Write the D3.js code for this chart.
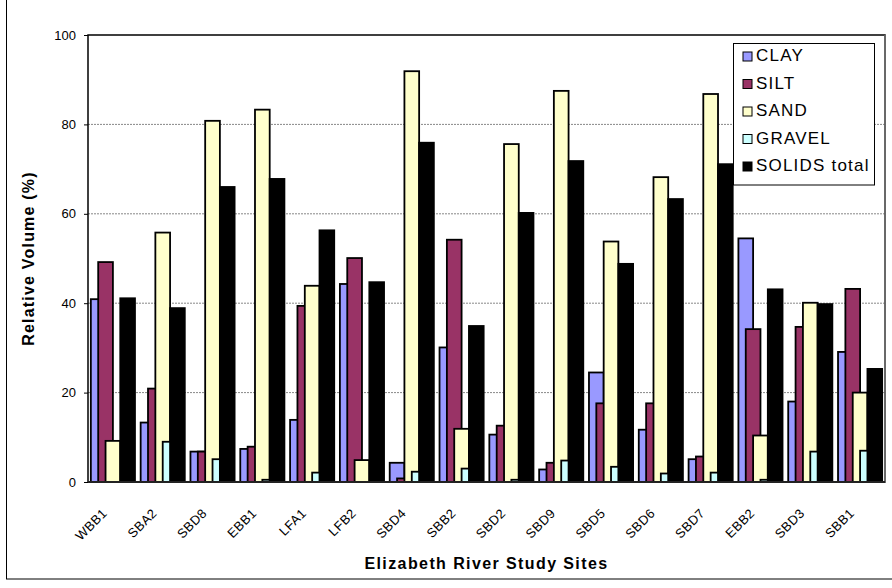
<!DOCTYPE html>
<html><head><meta charset="utf-8">
<script src="https://cdn.jsdelivr.net/npm/d3@7"></script>
<style>body{margin:0;background:#fff}svg{display:block;font-family:"Liberation Sans",Arial,sans-serif}</style>
</head><body><svg id="c" width="892" height="588"></svg>
<script>
const sites = ["WBB1","SBA2","SBD8","EBB1","LFA1","LFB2","SBD4","SBB2","SBD2","SBD9","SBD5","SBD6","SBD7","EBB2","SBD3","SBB1"];
const seriesNames = ["CLAY","SILT","SAND","GRAVEL","SOLIDS total"];
const clay   = [40.9,13.3,6.8,7.4,13.9,44.3,4.3,30.1,10.6,2.8,24.5,11.7,5.1,54.5,18.0,29.1];
const silt   = [49.2,20.9,6.8,7.9,39.4,50.1,0.8,54.2,12.6,4.3,17.6,17.6,5.7,34.2,34.7,43.2];
const sand   = [9.2,55.8,80.8,83.3,43.9,4.9,91.9,11.9,75.6,87.5,53.8,68.2,86.8,10.4,40.1,20.0];
const gravel = [0,9.0,5.1,0.5,2.1,0,2.3,3.0,0.5,4.8,3.4,1.9,2.1,0.5,6.8,7.0];
const solids = [41.1,38.9,66.0,67.8,56.3,44.7,75.9,34.9,60.2,71.8,48.8,63.3,71.1,43.1,39.8,25.3];
const colors = ["#9999FF","#993366","#FFFFCC","#CCFFFF","#000000"];
const yTicks = [0,20,40,60,80,100];
const allSeries = [clay,silt,sand,gravel,solids];

const svg = d3.select("#c");
const L=88,R=885,T=35,B=482;
// outer frame
svg.append("rect").attr("x",6.5).attr("y",-5).attr("width",900).attr("height",584)
  .attr("fill","none").attr("stroke","#000").attr("stroke-width",1);

const y = d3.scaleLinear().domain([0,100]).range([B,T]);
const x = d3.scaleBand().domain(sites).range([L,R]).paddingInner(0.114).paddingOuter(0.057);
const w = x.bandwidth()/3;

// gridlines
svg.append("g").selectAll("line").data(yTicks.filter(d=>d>0&&d<100)).join("line")
  .attr("x1",L).attr("x2",R).attr("y1",d=>y(d)).attr("y2",d=>y(d))
  .attr("stroke","#888").attr("stroke-width",1).attr("stroke-dasharray","2,1");

// bars
allSeries.forEach((vals,si)=>{
  svg.append("g").selectAll("rect").data(vals.map((v,i)=>({v,site:sites[i]}))).join("rect")
    .attr("x",d=>x(d.site)+si*w/2)
    .attr("y",d=>y(d.v))
    .attr("width",w)
    .attr("height",d=>y(0)-y(d.v))
    .attr("fill",colors[si]).attr("stroke","#000").attr("stroke-width",1.8);
});

// plot border
svg.append("rect").attr("x",L).attr("y",T).attr("width",R-L).attr("height",B-T)
  .attr("fill","none").attr("stroke","#000").attr("stroke-width",1.5);
svg.append("line").attr("x1",R).attr("x2",R).attr("y1",T).attr("y2",B).attr("stroke","#777").attr("stroke-width",1.5);
svg.append("line").attr("x1",L).attr("x2",R).attr("y1",B).attr("y2",B).attr("stroke","#222").attr("stroke-width",2);

// y axis
const ya = svg.append("g").attr("transform",`translate(${L},0)`)
  .call(d3.axisLeft(y).tickValues(yTicks).tickSize(4).tickPadding(8));
ya.select(".domain").remove();
ya.selectAll("text").attr("font-size",13).attr("font-family","Liberation Sans, Arial, sans-serif").attr("fill","#000");

// x labels
svg.append("g").selectAll("text").data(sites).join("text")
  .attr("transform",d=>`translate(${x(d)+x.bandwidth()/2-5},${B+32}) rotate(-45)`)
  .attr("text-anchor","end").attr("font-size",13).attr("letter-spacing",0.4).text(d=>d);

// axis titles
svg.append("text").attr("transform",`translate(34,${(T+B)/2}) rotate(-90)`)
  .attr("text-anchor","middle").attr("font-size",16).attr("font-weight","bold")
  .attr("letter-spacing",1.2).text("Relative Volume (%)");
svg.append("text").attr("x",(L+R)/2).attr("y",569).attr("text-anchor","middle")
  .attr("font-size",16).attr("font-weight","bold").attr("letter-spacing",1.4)
  .text("Elizabeth River Study Sites");

// legend
const lg = svg.append("g");
lg.append("rect").attr("x",733.5).attr("y",43.5).attr("width",141).attr("height",141.5)
  .attr("fill","#fff").attr("stroke","#000").attr("stroke-width",1);
seriesNames.forEach((n,i)=>{
  const cy = 55+i*27.5;
  lg.append("rect").attr("x",743).attr("y",cy-3).attr("width",9).attr("height",9)
    .attr("fill",colors[i]).attr("stroke","#000").attr("stroke-width",1);
  lg.append("text").attr("x",756).attr("y",cy+6).attr("font-size",17).attr("letter-spacing",1.2).text(n);
});
</script></body></html>
